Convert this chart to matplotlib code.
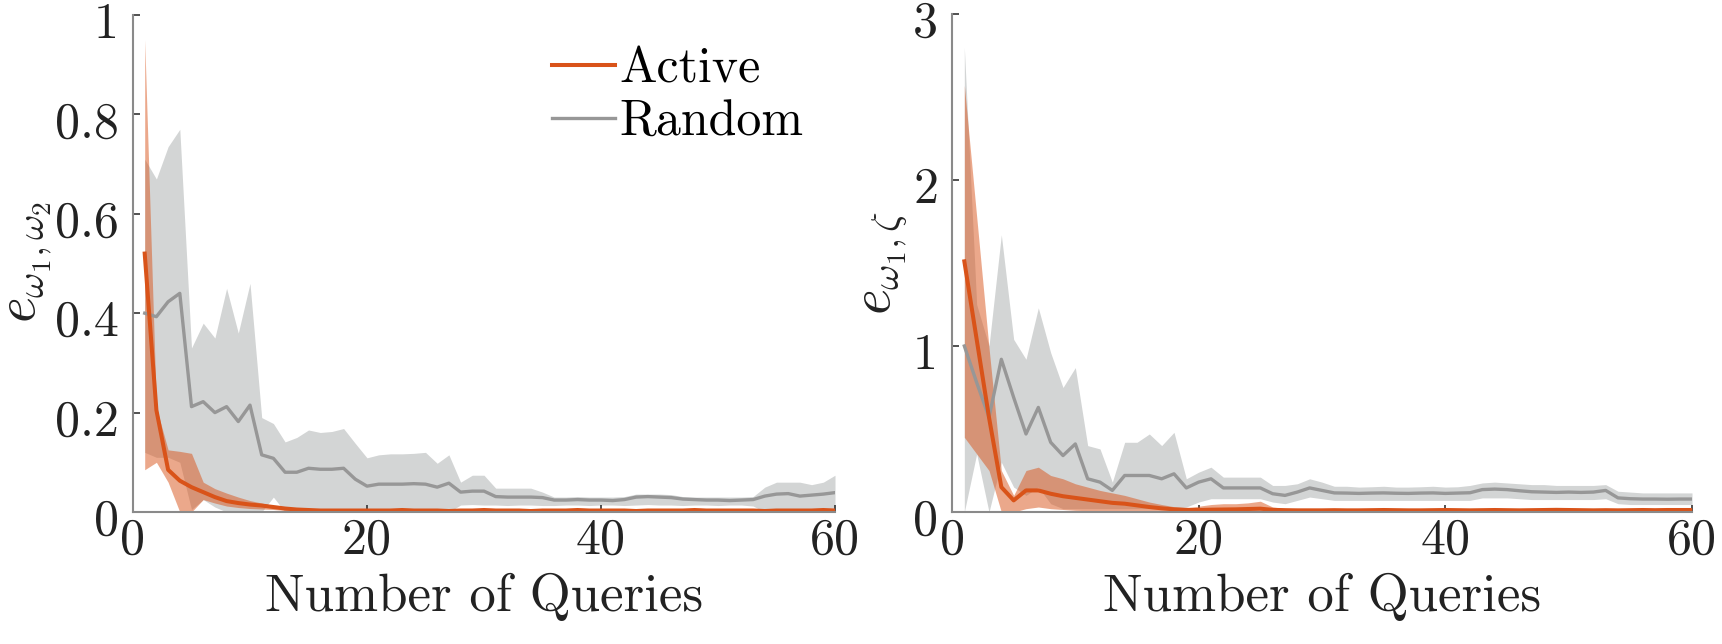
import matplotlib
matplotlib.use("Agg")
import matplotlib.pyplot as plt
from matplotlib.lines import Line2D
from matplotlib.transforms import ScaledTranslation

plt.rcParams['mathtext.fontset'] = 'cm'
plt.rcParams['axes.formatter.use_mathtext'] = True

queries = list(range(1, 61))

# ---------------- left panel: e_{w1,w2} ----------------
left_random_mean = [
    0.400, 0.393, 0.423, 0.440, 0.212, 0.222, 0.200, 0.212, 0.182, 0.215,
    0.115, 0.108, 0.080, 0.080, 0.088, 0.086, 0.086, 0.088, 0.066, 0.052,
    0.056, 0.056, 0.056, 0.057, 0.056, 0.050, 0.058, 0.040, 0.042, 0.042,
    0.031, 0.030, 0.030, 0.030, 0.029, 0.024, 0.024, 0.025, 0.024, 0.024,
    0.023, 0.025, 0.030, 0.031, 0.030, 0.029, 0.026, 0.025, 0.024, 0.024,
    0.023, 0.024, 0.025, 0.032, 0.036, 0.037, 0.032, 0.034, 0.036, 0.039]
left_random_upper = [
    0.710, 0.670, 0.735, 0.770, 0.330, 0.380, 0.350, 0.450, 0.360, 0.460,
    0.190, 0.178, 0.141, 0.150, 0.165, 0.160, 0.162, 0.168, 0.138, 0.109,
    0.115, 0.117, 0.117, 0.118, 0.120, 0.098, 0.115, 0.060, 0.074, 0.074,
    0.048, 0.048, 0.048, 0.048, 0.040, 0.030, 0.030, 0.031, 0.030, 0.030,
    0.030, 0.031, 0.036, 0.036, 0.036, 0.035, 0.031, 0.030, 0.030, 0.030,
    0.030, 0.030, 0.031, 0.050, 0.060, 0.060, 0.060, 0.055, 0.060, 0.074]
left_random_lower = [
    0.120, 0.110, 0.110, 0.100, 0.005, 0.025, 0.010, 0.000, 0.000, 0.000,
    0.000, 0.030, 0.000, 0.000, 0.000, 0.000, 0.000, 0.000, 0.000, 0.000,
    0.000, 0.000, 0.000, 0.000, 0.000, 0.000, 0.000, 0.014, 0.015, 0.014,
    0.014, 0.013, 0.014, 0.014, 0.013, 0.013, 0.014, 0.014, 0.013, 0.014,
    0.014, 0.013, 0.014, 0.015, 0.014, 0.014, 0.013, 0.014, 0.014, 0.013,
    0.014, 0.014, 0.012, 0.000, 0.000, 0.000, 0.000, 0.000, 0.000, 0.000]
left_active_mean = [
    0.520, 0.205, 0.085, 0.063, 0.050, 0.040, 0.030, 0.022, 0.018, 0.015,
    0.013, 0.010, 0.007, 0.005, 0.004, 0.003, 0.003, 0.003, 0.003, 0.003,
    0.003, 0.003, 0.004, 0.003, 0.003, 0.003, 0.002, 0.003, 0.003, 0.004,
    0.003, 0.003, 0.003, 0.002, 0.003, 0.003, 0.003, 0.004, 0.003, 0.003,
    0.003, 0.003, 0.002, 0.003, 0.003, 0.003, 0.003, 0.004, 0.003, 0.003,
    0.003, 0.003, 0.003, 0.002, 0.003, 0.003, 0.003, 0.003, 0.004, 0.003]
left_active_upper = [
    0.950, 0.210, 0.125, 0.122, 0.118, 0.060, 0.047, 0.038, 0.030, 0.023,
    0.018, 0.013, 0.009, 0.007, 0.006, 0.005, 0.005, 0.005, 0.005, 0.005,
    0.005, 0.005, 0.006, 0.005, 0.005, 0.005, 0.005, 0.005, 0.005, 0.006,
    0.005, 0.005, 0.005, 0.005, 0.005, 0.005, 0.005, 0.006, 0.005, 0.005,
    0.005, 0.005, 0.005, 0.005, 0.005, 0.005, 0.005, 0.006, 0.005, 0.005,
    0.005, 0.005, 0.005, 0.005, 0.005, 0.005, 0.005, 0.005, 0.006, 0.005]
left_active_lower = [
    0.085, 0.100, 0.060, 0.000, 0.000, 0.025, 0.018, 0.012, 0.009, 0.007,
    0.006, 0.005, 0.003, 0.002, 0.001, 0.001, 0.001, 0.001, 0.001, 0.001,
    0.001, 0.001, 0.001, 0.001, 0.001, 0.001, 0.001, 0.001, 0.001, 0.001,
    0.001, 0.001, 0.001, 0.001, 0.001, 0.001, 0.001, 0.001, 0.001, 0.001,
    0.001, 0.001, 0.001, 0.001, 0.001, 0.001, 0.001, 0.001, 0.001, 0.001,
    0.001, 0.001, 0.001, 0.001, 0.001, 0.001, 0.001, 0.001, 0.001, 0.001]

# ---------------- right panel: e_{w1,zeta} ----------------
right_random_mean = [
    1.000, 0.780, 0.570, 0.920, 0.690, 0.470, 0.630, 0.420, 0.340, 0.410,
    0.200, 0.180, 0.130, 0.220, 0.220, 0.220, 0.200, 0.230, 0.145, 0.180,
    0.200, 0.145, 0.145, 0.145, 0.145, 0.110, 0.100, 0.120, 0.145, 0.130,
    0.115, 0.114, 0.112, 0.114, 0.115, 0.113, 0.112, 0.114, 0.115, 0.112,
    0.114, 0.116, 0.135, 0.138, 0.135, 0.128, 0.122, 0.120, 0.118, 0.120,
    0.118, 0.120, 0.130, 0.085, 0.080, 0.078, 0.078, 0.077, 0.078, 0.078]
right_random_upper = [
    2.800, 1.250, 1.000, 1.670, 1.040, 0.920, 1.230, 0.960, 0.750, 0.870,
    0.400, 0.380, 0.180, 0.420, 0.420, 0.470, 0.400, 0.480, 0.200, 0.240,
    0.270, 0.210, 0.210, 0.210, 0.210, 0.160, 0.160, 0.170, 0.200, 0.180,
    0.155, 0.155, 0.150, 0.152, 0.155, 0.150, 0.150, 0.152, 0.155, 0.150,
    0.152, 0.160, 0.175, 0.180, 0.175, 0.170, 0.165, 0.165, 0.160, 0.160,
    0.160, 0.160, 0.165, 0.125, 0.120, 0.115, 0.115, 0.115, 0.115, 0.115]
right_random_lower = [
    0.000, 0.350, 0.000, 0.300, 0.150, 0.100, 0.150, 0.050, 0.020, 0.020,
    0.020, 0.020, 0.020, 0.020, 0.020, 0.020, 0.020, 0.020, 0.030, 0.060,
    0.080, 0.080, 0.080, 0.080, 0.080, 0.060, 0.050, 0.070, 0.090, 0.080,
    0.070, 0.070, 0.070, 0.070, 0.070, 0.070, 0.070, 0.070, 0.070, 0.070,
    0.070, 0.070, 0.085, 0.085, 0.085, 0.080, 0.075, 0.075, 0.075, 0.075,
    0.075, 0.075, 0.080, 0.050, 0.045, 0.045, 0.045, 0.045, 0.045, 0.045]
right_active_mean = [
    1.510, 1.040, 0.570, 0.150, 0.070, 0.130, 0.130, 0.110, 0.095, 0.085,
    0.075, 0.065, 0.055, 0.050, 0.040, 0.030, 0.022, 0.016, 0.013, 0.012,
    0.014, 0.015, 0.016, 0.018, 0.020, 0.013, 0.011, 0.010, 0.010, 0.010,
    0.011, 0.010, 0.010, 0.011, 0.012, 0.011, 0.010, 0.010, 0.011, 0.012,
    0.011, 0.010, 0.011, 0.012, 0.011, 0.010, 0.011, 0.012, 0.013, 0.012,
    0.011, 0.010, 0.011, 0.010, 0.011, 0.012, 0.011, 0.012, 0.012, 0.012]
right_active_upper = [
    2.570, 1.780, 0.990, 0.250, 0.100, 0.250, 0.270, 0.220, 0.200, 0.170,
    0.150, 0.130, 0.115, 0.100, 0.080, 0.060, 0.045, 0.032, 0.025, 0.035,
    0.045, 0.050, 0.050, 0.055, 0.065, 0.030, 0.022, 0.020, 0.020, 0.020,
    0.021, 0.020, 0.020, 0.021, 0.022, 0.021, 0.020, 0.020, 0.021, 0.022,
    0.021, 0.020, 0.021, 0.022, 0.021, 0.020, 0.021, 0.022, 0.023, 0.022,
    0.021, 0.020, 0.021, 0.020, 0.021, 0.022, 0.021, 0.022, 0.022, 0.022]
right_active_lower = [
    0.450, 0.350, 0.250, 0.000, 0.000, 0.020, 0.030, 0.020, 0.015, 0.010,
    0.008, 0.006, 0.005, 0.005, 0.004, 0.003, 0.003, 0.003, 0.003, 0.003,
    0.003, 0.003, 0.003, 0.003, 0.003, 0.003, 0.003, 0.003, 0.003, 0.003,
    0.003, 0.003, 0.003, 0.003, 0.003, 0.003, 0.003, 0.003, 0.003, 0.003,
    0.003, 0.003, 0.003, 0.003, 0.003, 0.003, 0.003, 0.003, 0.003, 0.003,
    0.003, 0.003, 0.003, 0.003, 0.003, 0.003, 0.003, 0.003, 0.003, 0.003]

x_ticks = [0, 20, 40, 60]
left_yticks = [0, 0.2, 0.4, 0.6, 0.8, 1]
left_yticklabels = ['0', '0.2', '0.4', '0.6', '0.8', '1']
right_yticks = [0, 1, 2, 3]
right_yticklabels = ['0', '1', '2', '3']
series_labels = ['Active', 'Random']
xlabel_text = 'Number of Queries'
left_ylabel = r'$e_{\omega_1,\omega_2}$'
right_ylabel = r'$e_{\omega_1,\zeta}$'

ORANGE = '#D95319'
GRAY_LINE = '#979797'
GRAY_FILL = '#D3D5D5'
TXT = '#222222'
FONT = 'cmr10'

W, H = 1722, 644
fig = plt.figure(figsize=(W / 100, H / 100), dpi=100)
ax1 = fig.add_axes([133 / W, 132 / H, 702 / W, 497 / H])
ax2 = fig.add_axes([952 / W, 132 / H, 740 / W, 498 / H])
label_shift = ScaledTranslation(0, -5 / 100, fig.dpi_scale_trans)


def draw(ax, rm, ru, rl, am, au, al, ymax, yt, ytl):
    ax.fill_between(queries, rl, ru, color=GRAY_FILL, linewidth=0, zorder=1)
    ax.fill_between(queries, al, au, color=ORANGE, alpha=0.5, linewidth=0, zorder=2)
    ax.plot(queries, rm, color=GRAY_LINE, lw=2.4, zorder=3)
    ax.plot(queries, am, color=ORANGE, lw=2.9, zorder=4)
    ax.set_xlim(0, 60)
    ax.set_ylim(0, ymax)
    ax.set_xticks(x_ticks)
    ax.set_xticklabels([str(t) for t in x_ticks])
    ax.set_yticks(yt)
    ax.set_yticklabels(ytl)
    for s in ['top', 'right']:
        ax.spines[s].set_visible(False)
    for s in ['left', 'bottom']:
        ax.spines[s].set_color('#8a8a8a')
        ax.spines[s].set_linewidth(1.5)
        ax.spines[s].set_zorder(5)
    ax.tick_params(direction='in', length=5, width=1.2, color='#333333',
                   labelcolor=TXT, labelsize=36)
    ax.tick_params(axis='x', pad=4)
    ax.tick_params(axis='y', pad=10)
    for lab in ax.get_xticklabels():
        lab.set_fontfamily(FONT)
    for lab in ax.get_yticklabels():
        lab.set_fontfamily(FONT)
        lab.set_transform(lab.get_transform() + label_shift)
    ax.set_xlabel(xlabel_text, fontsize=38, fontfamily=FONT, color=TXT, labelpad=7)


draw(ax1, left_random_mean, left_random_upper, left_random_lower,
     left_active_mean, left_active_upper, left_active_lower,
     1, left_yticks, left_yticklabels)
draw(ax2, right_random_mean, right_random_upper, right_random_lower,
     right_active_mean, right_active_upper, right_active_lower,
     3, right_yticks, right_yticklabels)

fig.text(27 / W, 1 - 262 / H, left_ylabel, rotation=90, ha='center', va='center',
         fontsize=40, color=TXT)
fig.text(883 / W, 1 - 263 / H, right_ylabel, rotation=90, ha='center', va='center',
         fontsize=40, color=TXT)

handles = [Line2D([], [], color=ORANGE, lw=2.9), Line2D([], [], color=GRAY_LINE, lw=2.4)]
ax1.legend(handles, series_labels, loc='upper left', bbox_to_anchor=(0.597, 0.937),
           frameon=False, prop={'family': FONT, 'size': 36}, handlelength=1.25,
           handletextpad=0.1, labelspacing=0.15, borderpad=0, borderaxespad=0)

fig.savefig('out.png', dpi=100, facecolor='white')
